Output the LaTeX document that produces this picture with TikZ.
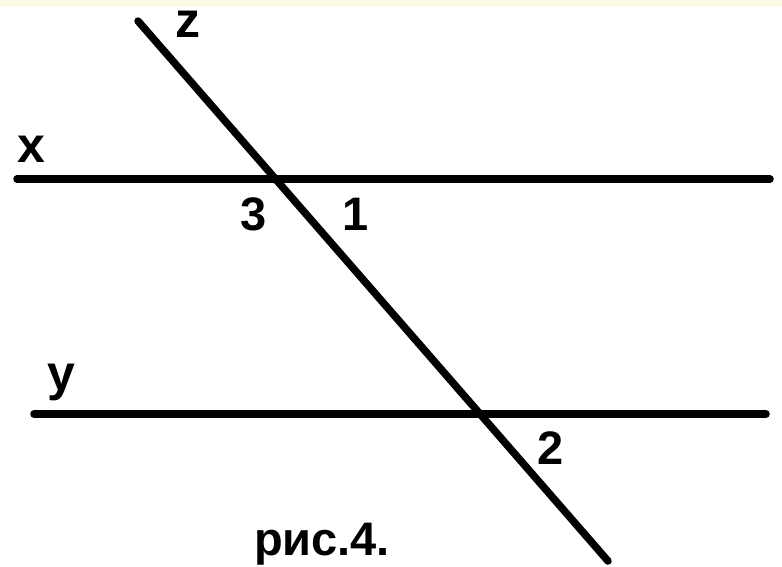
\documentclass[tikz,border=0pt]{standalone}
\usepackage{fontspec}
\setmainfont{Liberation Sans}
\definecolor{creambar}{HTML}{FCF9E4}
\begin{document}
\begin{tikzpicture}[x=1pt, y=-1pt,
    line/.style={black, line width=7.5pt, line cap=round},
    lbl/.style={font=\fontsize{50}{50}\selectfont\bfseries, anchor=base, inner sep=0pt},
    num/.style={font=\fontsize{47}{47}\selectfont\bfseries, anchor=base, inner sep=0pt}]
    \useasboundingbox (0,0) rectangle (782,566);
    \fill[white] (0,0) rectangle (782,566);

    % Strip at the top
    \fill[creambar] (0,0) rectangle (782,7);

    % End points of the three lines
    \coordinate (xa) at (17,179);
    \coordinate (xb) at (770,179);
    \coordinate (ya) at (34,414);
    \coordinate (yb) at (766,414);
    \coordinate (za) at (138,21);
    \coordinate (zb) at (608,561);

    % Parallel lines x and y
    \draw[line] (xa) -- (xb);
    \draw[line] (ya) -- (yb);

    % Transversal z
    \draw[line] (za) -- (zb);

    % Line names
    \node[lbl] (zlbl) at (188,37) {z};
    \node[lbl] (xlbl) at (31,162) {x};
    \node[lbl] (ylbl) at (61,390) {y};

    % Angle numbers
    \node[num] (ang3) at (254,230) {3};
    \node[num] (ang1) at (356,230) {1};
    \node[num] (ang2) at (551,464) {2};

    % Caption
    \node[num] (cap) at (322,555) {рис.4.};
\end{tikzpicture}
\end{document}
